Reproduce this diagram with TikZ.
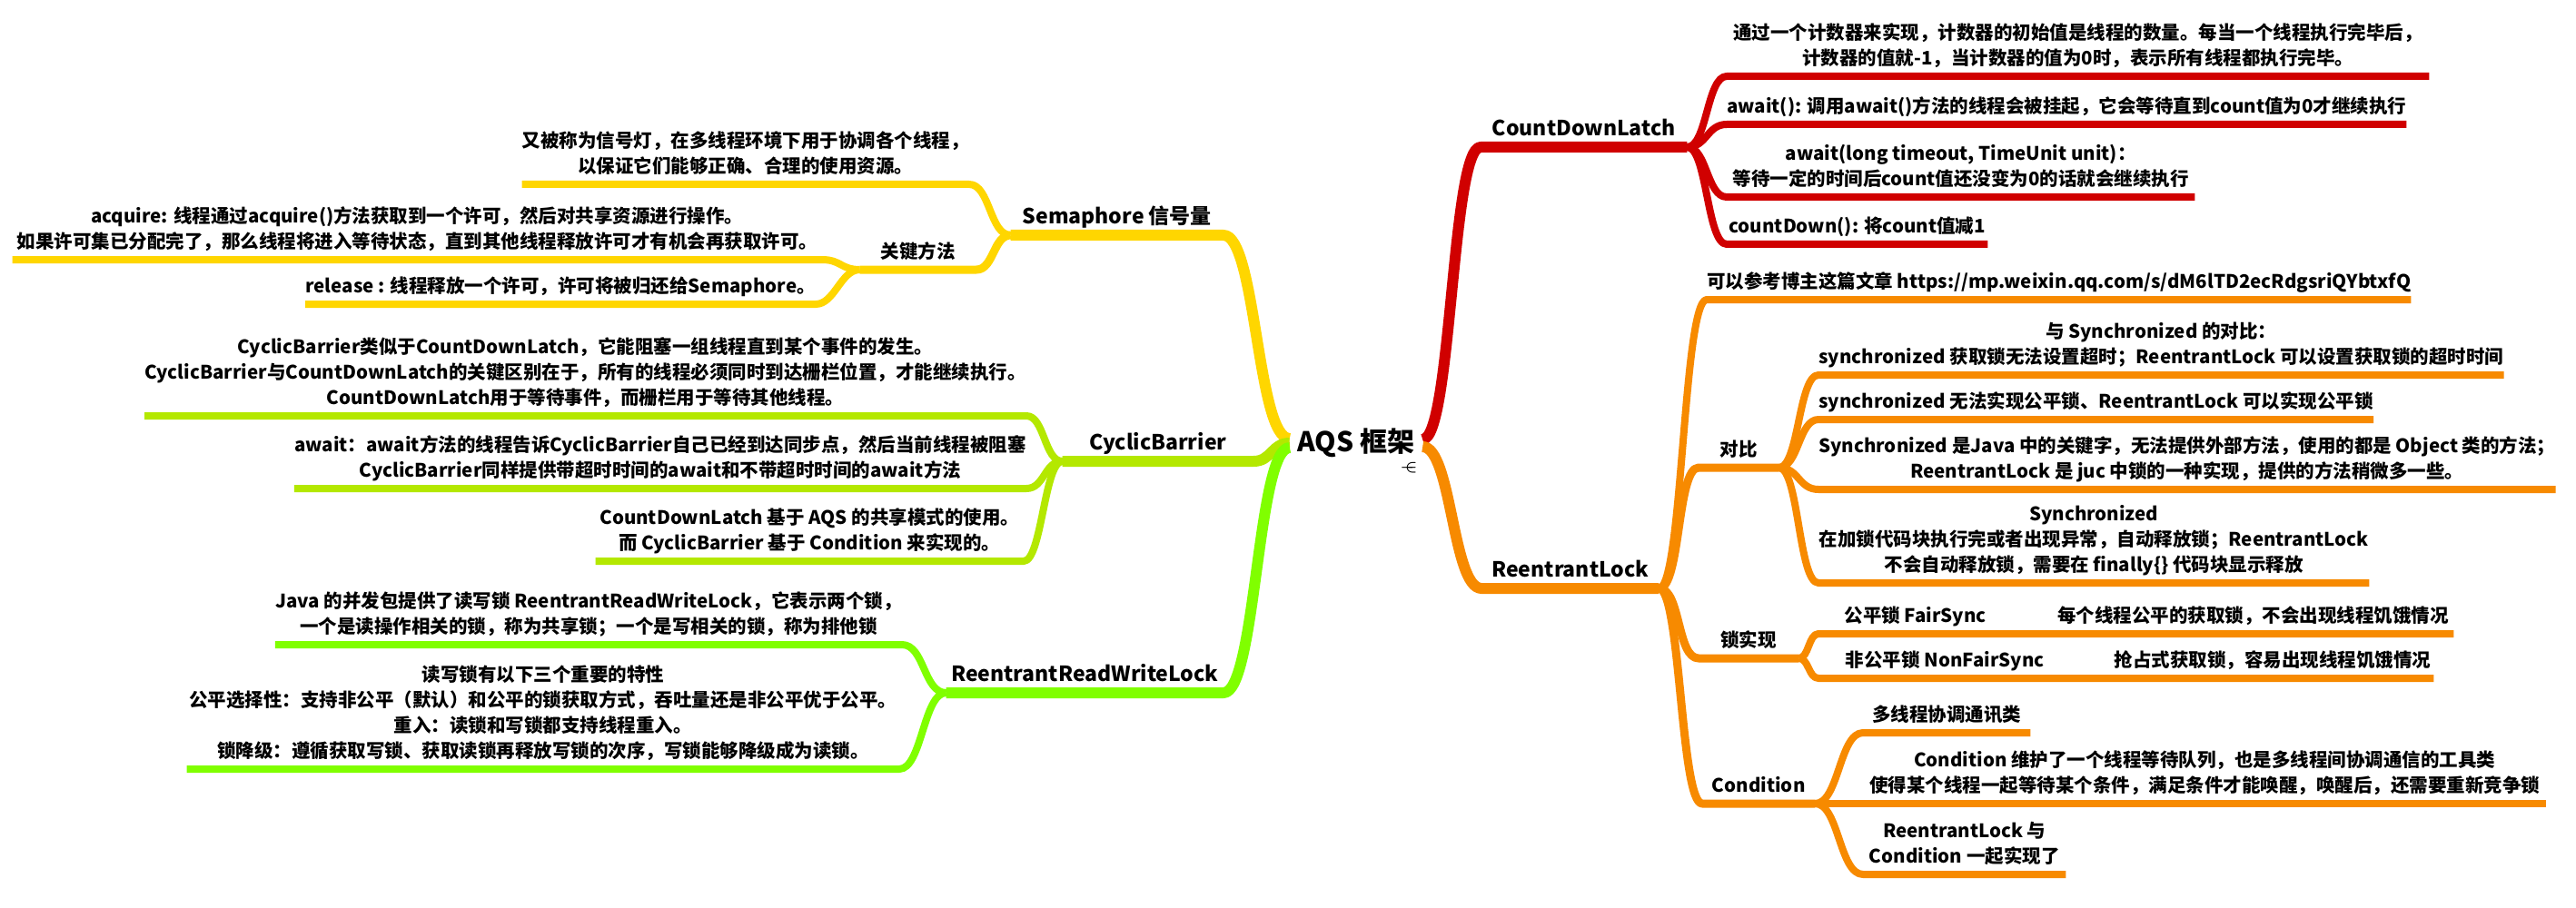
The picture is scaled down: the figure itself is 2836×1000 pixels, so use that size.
\documentclass[tikz,border=0pt]{standalone}
\usepackage{fontspec}
\setmainfont{Noto Sans CJK SC}

\definecolor{cdlred}{RGB}{208,0,0}
\definecolor{rlorange}{RGB}{247,138,0}
\definecolor{semyellow}{RGB}{255,214,0}
\definecolor{cblime}{RGB}{180,232,0}
\definecolor{rwgreen}{RGB}{128,255,0}

\tikzset{
  leaf/.style={font=\bfseries\fontsize{20.5}{28}\selectfont, align=center, inner xsep=0pt, inner ysep=4pt, execute at end node=\strut},
  topic/.style={font=\bfseries\fontsize{23}{30}\selectfont, align=center, inner xsep=0pt, inner ysep=3pt, execute at end node=\strut},
  trunk/.style={line width=12pt, line join=round},
  twig/.style={line width=9pt, line join=round},
  leafline/.style={line width=8pt, line join=round},
}

\begin{document}
\begin{tikzpicture}[x=1pt, y=-1pt]
    % Page size of the reference
    \fill[white] (0,0) rectangle (2836,1000);
    \useasboundingbox (0,0) rectangle (2836,1000);

    % Root
    \node[font=\bfseries\fontsize{30}{34}\selectfont, minimum width=146pt, inner sep=0pt] (aqs) at (1493,488) {AQS 框架};
    \node[font=\boldmath\fontsize{18}{18}\selectfont, inner sep=0pt, anchor=north] (aqsicon) at (1551,509) {$\relbar\mkern-9mu\in$};

    % ---------- right side ----------
    % CountDownLatch
    \node[topic, minimum width=227pt, anchor=south west] (cdl) at (1630,162) {CountDownLatch};
    \node[leaf, minimum width=773pt, anchor=south west] (cdlA) at (1901,84) {通过一个计数器来实现，计数器的初始值是线程的数量。每当一个线程执行完毕后，\\计数器的值就-1，当计数器的值为0时，表示所有线程都执行完毕。};
    \node[leaf, minimum width=736pt, anchor=south west] (cdlB) at (1901,137) {await(): 调用await()方法的线程会被挂起，它会等待直到count值为0才继续执行};
    \node[leaf, minimum width=515pt, anchor=south west] (cdlC) at (1901,217) {await(long timeout, TimeUnit unit)：\\等待一定的时间后count值还没变为0的话就会继续执行};
    \node[leaf, minimum width=287pt, anchor=south west] (cdlD) at (1901,269) {countDown(): 将count值减1};

    \draw[cdlred, trunk] ([yshift=4pt]aqs.east) .. controls +(32,0) and +(-32,0) .. (cdl.south west) -- (cdl.south east);
    \foreach \leafname in {cdlA,cdlB,cdlC,cdlD}
        \draw[cdlred, leafline] (cdl.south east) .. controls +(22,0) and +(-22,0) .. (\leafname.south west) -- (\leafname.south east);

    % ReentrantLock
    \node[topic, minimum width=195pt, anchor=south west] (rl) at (1631,648) {ReentrantLock};
    \node[leaf, minimum width=742pt, anchor=south west] (rlA) at (1879,330) {可以参考博主这篇文章 https://mp.weixin.qq.com/s/dM6lTD2ecRdgsriQYbtxfQ};
    \node[leaf, minimum width=88pt, anchor=south west] (cmp) at (1870,515) {对比};
    \node[leaf, minimum width=110pt, anchor=south west] (lock) at (1870,725) {锁实现};
    \node[leaf, minimum width=124pt, anchor=south west] (cond) at (1874,885) {Condition};

    \draw[rlorange, trunk] ([yshift=-4pt]aqs.east) .. controls +(32,0) and +(-32,0) .. (rl.south west) -- (rl.south east);
    \draw[rlorange, leafline] (rl.south east) .. controls +(26,0) and +(-26,0) .. (rlA.south west) -- (rlA.south east);
    \foreach \subname in {cmp,lock,cond}
        \draw[rlorange, twig] (rl.south east) .. controls +(24,0) and +(-24,0) .. (\subname.south west) -- (\subname.south east);

    % compare
    \node[leaf, minimum width=747pt, anchor=south west] (cmpA) at (2002,413) {与 Synchronized 的对比：\\synchronized 获取锁无法设置超时；ReentrantLock 可以设置获取锁的超时时间};
    \node[leaf, minimum width=606pt, anchor=south west] (cmpB) at (2002,462) {synchronized 无法实现公平锁、ReentrantLock 可以实现公平锁};
    \node[leaf, minimum width=809pt, anchor=south west] (cmpC) at (2002,539) {Synchronized 是Java 中的关键字，无法提供外部方法，使用的都是 Object 类的方法；\\ReentrantLock 是 juc 中锁的一种实现，提供的方法稍微多一些。};
    \node[leaf, minimum width=606pt, anchor=south west] (cmpD) at (2002,642) {Synchronized\\在加锁代码块执行完或者出现异常，自动释放锁；ReentrantLock\\不会自动释放锁，需要在 finally\{\} 代码块显示释放};
    \foreach \leafname in {cmpA,cmpB,cmpC,cmpD}
        \draw[rlorange, leafline] (cmp.south east) .. controls +(22,0) and +(-22,0) .. (\leafname.south west) -- (\leafname.south east);

    % lock kinds
    \node[leaf, minimum width=213pt, anchor=south west] (fair) at (2002,698) {公平锁 FairSync};
    \node[leaf, minimum width=441pt, anchor=south west] (fairD) at (2260,698) {每个线程公平的获取锁，不会出现线程饥饿情况};
    \node[leaf, minimum width=278pt, anchor=south west] (nonfair) at (2002,747) {非公平锁 NonFairSync};
    \node[leaf, minimum width=354pt, anchor=south west] (nonfairD) at (2325,747) {抢占式获取锁，容易出现线程饥饿情况};
    \draw[rlorange, leafline] (lock.south east) .. controls +(11,0) and +(-11,0) .. (fair.south west) -- (fair.south east) -- (fairD.south west) -- (fairD.south east);
    \draw[rlorange, leafline] (lock.south east) .. controls +(11,0) and +(-11,0) .. (nonfair.south west) -- (nonfair.south east) -- (nonfairD.south west) -- (nonfairD.south east);

    % Condition
    \node[leaf, minimum width=184pt, anchor=south west] (condA) at (2051,807) {多线程协调通讯类};
    \node[leaf, minimum width=752pt, anchor=south west] (condB) at (2051,885) {Condition 维护了一个线程等待队列，也是多线程间协调通信的工具类\\使得某个线程一起等待某个条件，满足条件才能唤醒，唤醒后，还需要重新竞争锁};
    \node[leaf, minimum width=223pt, anchor=south west] (condC) at (2051,963) {ReentrantLock 与\\Condition 一起实现了};
    \foreach \leafname in {condA,condB,condC}
        \draw[rlorange, leafline] (cond.south east) .. controls +(26,0) and +(-26,0) .. (\leafname.south west) -- (\leafname.south east);

    % ---------- left side ----------
    % Semaphore
    \node[topic, minimum width=234pt, anchor=south east] (sem) at (1347,259) {Semaphore 信号量};
    \node[leaf, minimum width=488pt, anchor=south east] (semA) at (1067,203) {又被称为信号灯，在多线程环境下用于协调各个线程，\\以保证它们能够正确、合理的使用资源。};
    \node[leaf, minimum width=128pt, anchor=south east] (key) at (1075,297) {关键方法};
    \node[leaf, minimum width=891pt, anchor=south east] (acq) at (905,286) {acquire: 线程通过acquire()方法获取到一个许可，然后对共享资源进行操作。\\如果许可集已分配完了，那么线程将进入等待状态，直到其他线程释放许可才有机会再获取许可。};
    \node[leaf, minimum width=556pt, anchor=south east] (rel) at (898,335) {release : 线程释放一个许可，许可将被归还给Semaphore。};

    \draw[semyellow, trunk] ([yshift=5pt]aqs.west) .. controls +(-36,0) and +(36,0) .. (sem.south east) -- (sem.south west);
    \draw[semyellow, leafline] (sem.south west) .. controls +(-23,0) and +(23,0) .. (semA.south east) -- (semA.south west);
    \draw[semyellow, twig] (sem.south west) .. controls +(-19,0) and +(19,0) .. (key.south east) -- (key.south west);
    \foreach \leafname in {acq,rel}
        \draw[semyellow, leafline] (key.south west) .. controls +(-21,0) and +(21,0) .. (\leafname.south east) -- (\leafname.south west);

    % CyclicBarrier
    \node[topic, minimum width=210pt, anchor=south east] (cb) at (1380,508) {CyclicBarrier};
    \node[leaf, minimum width=965pt, anchor=south east] (cbA) at (1130,458) {CyclicBarrier类似于CountDownLatch，它能阻塞一组线程直到某个事件的发生。\\CyclicBarrier与CountDownLatch的关键区别在于，所有的线程必须同时到达栅栏位置，才能继续执行。\\CountDownLatch用于等待事件，而栅栏用于等待其他线程。};
    \node[leaf, minimum width=797pt, anchor=south east] (cbB) at (1130,538) {await：await方法的线程告诉CyclicBarrier自己已经到达同步点，然后当前线程被阻塞\\CyclicBarrier同样提供带超时时间的await和不带超时时间的await方法};
    \node[leaf, minimum width=471pt, anchor=south east] (cbC) at (1127,618) {CountDownLatch 基于 AQS 的共享模式的使用。\\而 CyclicBarrier 基于 Condition 来实现的。};

    \draw[cblime, trunk] (aqs.west) .. controls +(-20,0) and +(20,0) .. (cb.south east) -- (cb.south west);
    \foreach \leafname in {cbA,cbB,cbC}
        \draw[cblime, leafline] (cb.south west) .. controls +(-20,0) and +(20,0) .. (\leafname.south east) -- (\leafname.south west);

    % ReentrantReadWriteLock
    \node[topic, minimum width=305pt, anchor=south east] (rrwl) at (1347,763) {ReentrantReadWriteLock};
    \node[leaf, minimum width=681pt, anchor=south east] (rrwlA) at (993,710) {Java 的并发包提供了读写锁 ReentrantReadWriteLock，它表示两个锁，\\一个是读操作相关的锁，称为共享锁；一个是写相关的锁，称为排他锁};
    \node[leaf, minimum width=784pt, anchor=south east] (rrwlB) at (990,847) {读写锁有以下三个重要的特性\\公平选择性：支持非公平（默认）和公平的锁获取方式，吞吐量还是非公平优于公平。\\重入：读锁和写锁都支持线程重入。\\锁降级：遵循获取写锁、获取读锁再释放写锁的次序，写锁能够降级成为读锁。};

    \draw[rwgreen, trunk] ([yshift=-5pt]aqs.west) .. controls +(-36,0) and +(36,0) .. (rrwl.south east) -- (rrwl.south west);
    \foreach \leafname in {rrwlA,rrwlB}
        \draw[rwgreen, leafline] (rrwl.south west) .. controls +(-25,0) and +(25,0) .. (\leafname.south east) -- (\leafname.south west);

\end{tikzpicture}
\end{document}
